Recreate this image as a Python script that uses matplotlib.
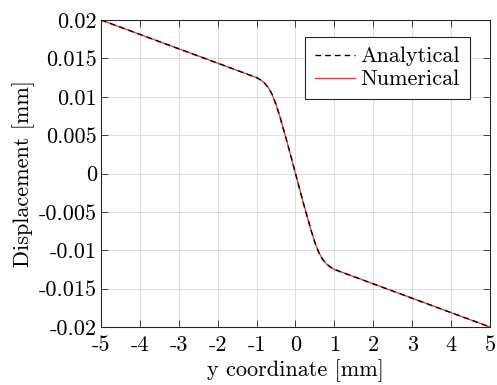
import matplotlib
matplotlib.use("Agg")
import matplotlib.pyplot as plt

plt.rcParams.update({
    "font.family": "serif",
    "font.serif": ["cmr10"],
    "mathtext.fontset": "cm",
    "axes.unicode_minus": False,
    "axes.formatter.use_mathtext": True,
    "font.size": 16,
})

# values (analytical and numerical coincide)
y_coord = [-5, -4, -3, -2, -1, -0.9, -0.8, -0.7, -0.6, -0.5, -0.4, -0.3, -0.2, -0.1,
           0, 0.1, 0.2, 0.3, 0.4, 0.5, 0.6, 0.7, 0.8, 0.9, 1, 2, 3, 4, 5]
disp_analytical = [0.02, 0.018125, 0.01625, 0.014375, 0.0125, 0.0122, 0.0118, 0.0112,
                   0.0103, 0.0090, 0.0074, 0.0056, 0.0038, 0.0019, 0.0,
                   -0.0019, -0.0038, -0.0056, -0.0074, -0.0090, -0.0103, -0.0112,
                   -0.0118, -0.0122, -0.0125, -0.014375, -0.01625, -0.018125, -0.02]
disp_numerical = list(disp_analytical)

x_ticks = [-5, -4, -3, -2, -1, 0, 1, 2, 3, 4, 5]
y_ticks = [-0.02, -0.015, -0.01, -0.005, 0, 0.005, 0.01, 0.015, 0.02]
y_ticklabels = ["-0.02", "-0.015", "-0.01", "-0.005", "0", "0.005", "0.01", "0.015", "0.02"]

fig = plt.figure(figsize=(4.97, 3.85), dpi=100)
ax = fig.add_axes([0.2032, 0.1506, 0.7827, 0.7974])

ln_num, = ax.plot(y_coord, disp_numerical, color="#ff3333", lw=1.0, zorder=3)
ln_ana, = ax.plot(y_coord, disp_analytical, color="black", lw=1.0,
                  linestyle=(0, (4, 3)), zorder=4)

ax.set_xlim(-5, 5)
ax.set_ylim(-0.02, 0.02)
ax.set_xticks(x_ticks)
ax.set_xticklabels([str(t) for t in x_ticks])
ax.set_yticks(y_ticks)
ax.set_yticklabels(y_ticklabels)
ax.grid(True, color="#dcdcdc", lw=0.7)
ax.set_axisbelow(True)
ax.tick_params(direction="in", top=True, right=True, length=5, width=0.6,
               color="#262626", labelcolor="black")
ax.tick_params(axis="x", pad=6)
ax.tick_params(axis="y", pad=3)
for s in ax.spines.values():
    s.set_color("#262626")
    s.set_linewidth(0.8)

ax.set_xlabel("y coordinate [mm]", labelpad=3)
ax.set_ylabel("Displacement [mm]", labelpad=3)

leg = ax.legend([ln_ana, ln_num], ["Analytical", "Numerical"], loc="upper right",
                bbox_to_anchor=(0.949, 0.945), fancybox=False, framealpha=1,
                edgecolor="#262626", handlelength=1.8, handletextpad=0.25,
                borderpad=0.45, labelspacing=0.15, borderaxespad=0)
leg.get_frame().set_linewidth(0.8)

fig.savefig("out.png", dpi=100)
